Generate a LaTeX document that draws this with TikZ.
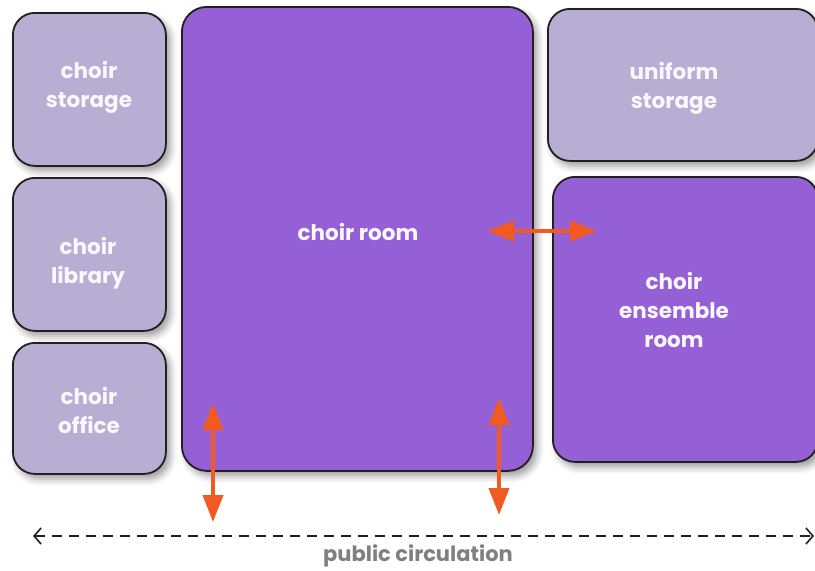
\documentclass[tikz,border=0pt]{standalone}
\usepackage{fontspec}
\setmainfont{Poppins}
\usetikzlibrary{arrows.meta,shadows.blur}
\definecolor{lightroom}{HTML}{B8AED4}
\definecolor{darkroom}{HTML}{9560D6}
\definecolor{linkorange}{HTML}{F15A22}
\definecolor{edgeblack}{HTML}{231F20}
\definecolor{circgray}{HTML}{808080}
\definecolor{roomtext}{HTML}{FAF7FF}
\tikzset{
  room/.style={draw=edgeblack, line width=1.8pt, rounded corners=22pt,
    blur shadow={shadow xshift=4pt, shadow yshift=-5pt, shadow blur radius=7pt, shadow opacity=40},
    inner sep=0pt, anchor=north west},
  lightbox/.style={room, fill=lightroom},
  darkbox/.style={room, fill=darkroom},
  roomlabel/.style={text=roomtext, font=\fontsize{21.5}{29}\selectfont\bfseries, align=center, inner sep=0pt},
  link/.style={draw=linkorange, line width=4pt, {Triangle[width=20pt,length=27pt]}-{Triangle[width=20pt,length=27pt]}},
  circ/.style={draw=edgeblack, line width=1.6pt, dash pattern=on 10pt off 7pt, {Straight Barb[length=7pt,width=16pt,line width=1.6pt]}-{Straight Barb[length=7pt,width=16pt,line width=1.6pt]}},
}
\begin{document}
\begin{tikzpicture}[x=1pt,y=-1pt]
\useasboundingbox (0,0) rectangle (815,571);
\node[lightbox, minimum width=153pt, minimum height=153pt] (storage) at (12,12) {};
\node[roomlabel] (storagelabel) at (89,87) {choir\\storage};
\node[lightbox, minimum width=153pt, minimum height=153pt] (library) at (12,177) {};
\node[roomlabel] (librarylabel) at (88,263) {choir\\library};
\node[lightbox, minimum width=153pt, minimum height=131pt] (office) at (12,342) {};
\node[roomlabel] (officelabel) at (89,410) {choir\\office};
\node[darkbox, minimum width=351pt, minimum height=464pt, rounded corners=25pt] (room) at (181,6) {};
\node[roomlabel] (roomlabel) at (358,232) {choir room};
\node[lightbox, minimum width=270pt, minimum height=152pt] (uniform) at (547,8) {};
\node[roomlabel] (uniformlabel) at (674,88.5) {uniform\\storage};
\node[darkbox, minimum width=265pt, minimum height=285pt] (ensemble) at (552,176) {};
\node[roomlabel] (ensemblelabel) at (674,310) {choir\\ensemble\\room};
% links
\coordinate (hA) at (487,231);
\coordinate (hB) at (597,231);
\draw[link] (hA) -- (hB);
\coordinate (vlA) at (213,403);
\coordinate (vlB) at (213,522);
\draw[link] (vlA) -- (vlB);
\coordinate (vrA) at (499,398);
\coordinate (vrB) at (499,515);
\draw[link] (vrA) -- (vrB);
% public circulation
\coordinate (cA) at (33,536);
\coordinate (cB) at (814,536);
\draw[circ] (cA) -- (cB);
\node[text=circgray, font=\fontsize{21}{24}\selectfont\bfseries, inner sep=0pt] (circlabel) at (418,556) {public circulation};
\end{tikzpicture}
\end{document}
